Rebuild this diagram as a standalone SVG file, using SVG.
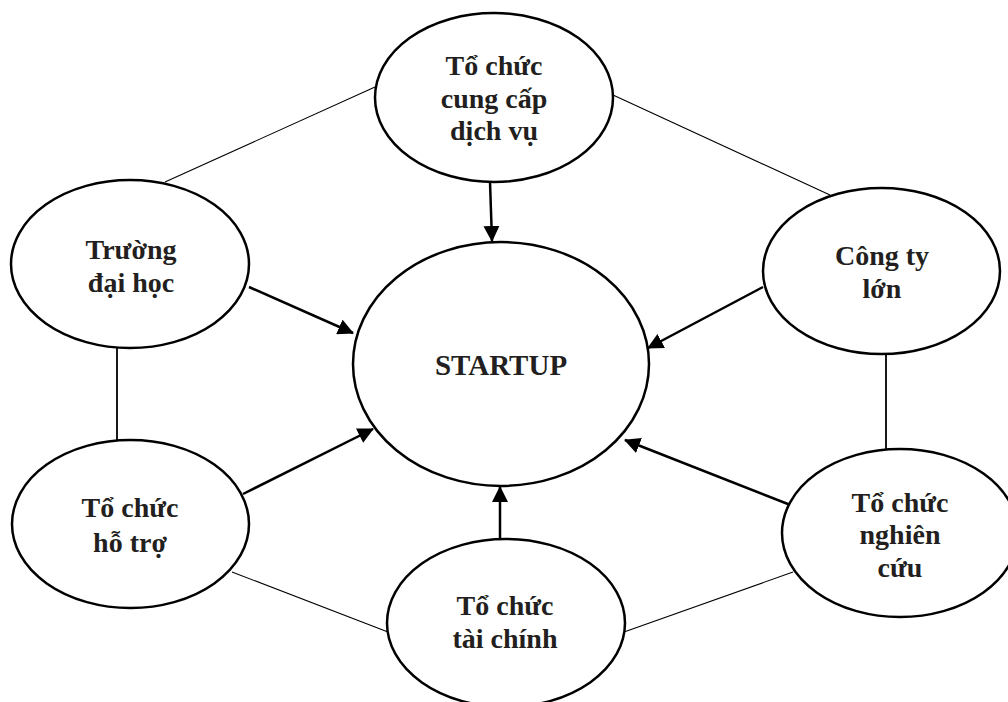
<svg xmlns="http://www.w3.org/2000/svg" width="1008" height="702" viewBox="0 0 1008 702">
<style>
.node ellipse{fill:#fff;stroke:#000;stroke-width:2.5}
.node text{font-family:"Liberation Serif","Times New Roman",serif;font-weight:bold;font-size:28px;fill:#231f20;text-anchor:middle}
.thin{stroke:#000;stroke-width:1.1;fill:none}
.vert{stroke:#000;stroke-width:1.8;fill:none}
.arrow{stroke:#000;stroke-width:2.5;fill:none;marker-end:url(#ah)}
</style>
<defs>
<marker id="ah" markerUnits="userSpaceOnUse" markerWidth="17" markerHeight="16" refX="15" refY="8" orient="auto">
<path d="M0,0 L16,8 L0,16 Z" fill="#000"/>
</marker>
</defs>
<rect width="1008" height="702" fill="#fff"/>
<g id="connectors">
<line class="thin" x1="165" y1="182" x2="375" y2="87"/>
<line class="thin" x1="613" y1="95" x2="830" y2="195"/>
<line class="vert" x1="117" y1="348" x2="117" y2="440"/>
<line class="vert" x1="886" y1="354" x2="886" y2="449"/>
<line class="thin" x1="232" y1="572" x2="388" y2="632"/>
<line class="thin" x1="624" y1="632" x2="793" y2="572"/>
<line class="arrow" x1="490" y1="182" x2="492" y2="241"/>
<line class="arrow" x1="249" y1="287" x2="353" y2="333"/>
<line class="arrow" x1="763" y1="287" x2="648" y2="348"/>
<line class="arrow" x1="243" y1="494" x2="373" y2="429"/>
<line class="arrow" x1="793" y1="506" x2="625" y2="440"/>
<line class="arrow" x1="500" y1="539" x2="500" y2="487"/>
</g>
<g id="startup" class="node">
<ellipse cx="501" cy="364" rx="148" ry="122"/>
<text x="501" y="375" style="font-size:29px">STARTUP</text>
</g>
<g id="dichvu" class="node">
<ellipse cx="494" cy="97.5" rx="119" ry="84.5"/>
<text x="494" y="75">Tổ chức</text>
<text x="494" y="108">cung cấp</text>
<text x="494" y="140">dịch vụ</text>
</g>
<g id="truong" class="node">
<ellipse cx="130" cy="264" rx="119" ry="84"/>
<text x="131" y="259">Trường</text>
<text x="131" y="292">đại học</text>
</g>
<g id="congty" class="node">
<ellipse cx="881.5" cy="271" rx="118.5" ry="83"/>
<text x="882" y="265">Công ty</text>
<text x="882" y="298">lớn</text>
</g>
<g id="hotro" class="node">
<ellipse cx="130.5" cy="524" rx="118.5" ry="84"/>
<text x="130" y="517">Tổ chức</text>
<text x="130" y="552">hỗ trợ</text>
</g>
<g id="taichinh" class="node">
<ellipse cx="506" cy="623" rx="119" ry="84"/>
<text x="505" y="615">Tổ chức</text>
<text x="505" y="648">tài chính</text>
</g>
<g id="nghiencuu" class="node">
<ellipse cx="900" cy="533" rx="118" ry="84"/>
<text x="900" y="512">Tổ chức</text>
<text x="900" y="544">nghiên</text>
<text x="900" y="577">cứu</text>
</g>
</svg>
